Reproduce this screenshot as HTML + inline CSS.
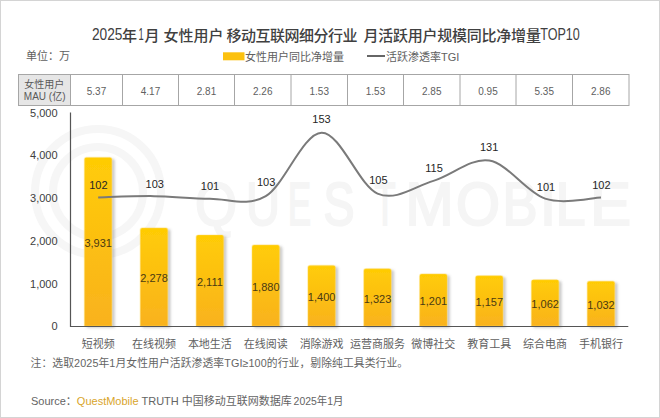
<!DOCTYPE html>
<html><head><meta charset="utf-8"><style>
html,body{margin:0;padding:0;background:#fff;}
body{width:660px;height:418px;overflow:hidden;position:relative;}
.frame{position:absolute;left:0;top:0;width:658px;height:416px;border:1px solid #d4d4d4;}
svg{position:absolute;left:0;top:0;}
text{font-family:"Liberation Sans","Noto Sans CJK SC",sans-serif;}
.ax{font-size:11px;fill:#404040;}
.bl{font-size:11px;fill:#4a3a12;}
.tl{font-size:11px;fill:#262626;}
.cat{font-size:11px;fill:#606060;}
.tb{font-size:11px;fill:#606060;}
.th{font-size:10px;fill:#595959;}
.lg{font-size:11px;fill:#606060;}
.title{font-size:15px;fill:#404040;font-weight:500;}
.note{font-size:11px;fill:#646464;}
</style></head><body>
<div class="frame"></div>
<svg width="660" height="418" viewBox="0 0 660 418">
<defs>
<linearGradient id="bg" x1="0" y1="0" x2="0" y2="1"><stop offset="0" stop-color="#ffcc05"/><stop offset="1" stop-color="#f9b21e"/></linearGradient>
<filter id="sh" x="-30%" y="-10%" width="160%" height="120%"><feDropShadow dx="2.6" dy="1.5" stdDeviation="1.1" flood-color="#666" flood-opacity="0.35"/></filter>
</defs>
<g fill="none" stroke="#f6f6f6" stroke-width="8"><circle cx="98" cy="192" r="63"/><circle cx="98" cy="192" r="45"/></g>
<text x="195.0" y="224.5" font-family="Liberation Sans, sans-serif" font-size="62" fill="#f5f5f5" stroke="#f5f5f5" stroke-width="2.2" textLength="42.0" lengthAdjust="spacingAndGlyphs">Q</text>
<text x="246.0" y="224.5" font-family="Liberation Sans, sans-serif" font-size="62" fill="#f5f5f5" stroke="#f5f5f5" stroke-width="2.2" textLength="34.0" lengthAdjust="spacingAndGlyphs">U</text>
<text x="288.0" y="224.5" font-family="Liberation Sans, sans-serif" font-size="62" fill="#f5f5f5" stroke="#f5f5f5" stroke-width="2.2" textLength="23.0" lengthAdjust="spacingAndGlyphs">E</text>
<text x="323.5" y="224.5" font-family="Liberation Sans, sans-serif" font-size="62" fill="#f5f5f5" stroke="#f5f5f5" stroke-width="2.2" textLength="31.0" lengthAdjust="spacingAndGlyphs">S</text>
<text x="374.5" y="224.5" font-family="Liberation Sans, sans-serif" font-size="62" fill="#f5f5f5" stroke="#f5f5f5" stroke-width="2.2" textLength="21.0" lengthAdjust="spacingAndGlyphs">T</text>
<text x="405.5" y="224.5" font-family="Liberation Sans, sans-serif" font-size="62" fill="#f5f5f5" stroke="#f5f5f5" stroke-width="2.2" textLength="48.0" lengthAdjust="spacingAndGlyphs">M</text>
<text x="456.0" y="224.5" font-family="Liberation Sans, sans-serif" font-size="62" fill="#f5f5f5" stroke="#f5f5f5" stroke-width="2.2" textLength="44.0" lengthAdjust="spacingAndGlyphs">O</text>
<text x="502.5" y="224.5" font-family="Liberation Sans, sans-serif" font-size="62" fill="#f5f5f5" stroke="#f5f5f5" stroke-width="2.2" textLength="35.0" lengthAdjust="spacingAndGlyphs">B</text>
<text x="540.0" y="224.5" font-family="Liberation Sans, sans-serif" font-size="62" fill="#f5f5f5" stroke="#f5f5f5" stroke-width="2.2" textLength="16.0" lengthAdjust="spacingAndGlyphs">I</text>
<text x="555.5" y="224.5" font-family="Liberation Sans, sans-serif" font-size="62" fill="#f5f5f5" stroke="#f5f5f5" stroke-width="2.2" textLength="30.0" lengthAdjust="spacingAndGlyphs">L</text>
<text x="590.0" y="224.5" font-family="Liberation Sans, sans-serif" font-size="62" fill="#f5f5f5" stroke="#f5f5f5" stroke-width="2.2" textLength="41.0" lengthAdjust="spacingAndGlyphs">E</text>
<path d="M84.45,326.00 V159.42 Q84.45,157.42 86.45,157.42 H109.85 Q111.85,157.42 111.85,159.42 V326.00 Z" fill="url(#bg)" stroke="#ffd84a" stroke-opacity="0.35" stroke-width="1.4" filter="url(#sh)"/>
<path d="M140.32,326.00 V229.97 Q140.32,227.97 142.32,227.97 H165.72 Q167.72,227.97 167.72,229.97 V326.00 Z" fill="url(#bg)" stroke="#ffd84a" stroke-opacity="0.35" stroke-width="1.4" filter="url(#sh)"/>
<path d="M196.19,326.00 V237.10 Q196.19,235.10 198.19,235.10 H221.59 Q223.59,235.10 223.59,237.10 V326.00 Z" fill="url(#bg)" stroke="#ffd84a" stroke-opacity="0.35" stroke-width="1.4" filter="url(#sh)"/>
<path d="M252.06,326.00 V246.96 Q252.06,244.96 254.06,244.96 H277.46 Q279.46,244.96 279.46,246.96 V326.00 Z" fill="url(#bg)" stroke="#ffd84a" stroke-opacity="0.35" stroke-width="1.4" filter="url(#sh)"/>
<path d="M307.93,326.00 V267.45 Q307.93,265.45 309.93,265.45 H333.33 Q335.33,265.45 335.33,267.45 V326.00 Z" fill="url(#bg)" stroke="#ffd84a" stroke-opacity="0.35" stroke-width="1.4" filter="url(#sh)"/>
<path d="M363.80,326.00 V270.73 Q363.80,268.73 365.80,268.73 H389.20 Q391.20,268.73 391.20,270.73 V326.00 Z" fill="url(#bg)" stroke="#ffd84a" stroke-opacity="0.35" stroke-width="1.4" filter="url(#sh)"/>
<path d="M419.67,326.00 V275.94 Q419.67,273.94 421.67,273.94 H445.07 Q447.07,273.94 447.07,275.94 V326.00 Z" fill="url(#bg)" stroke="#ffd84a" stroke-opacity="0.35" stroke-width="1.4" filter="url(#sh)"/>
<path d="M475.54,326.00 V277.82 Q475.54,275.82 477.54,275.82 H500.94 Q502.94,275.82 502.94,277.82 V326.00 Z" fill="url(#bg)" stroke="#ffd84a" stroke-opacity="0.35" stroke-width="1.4" filter="url(#sh)"/>
<path d="M531.41,326.00 V281.87 Q531.41,279.87 533.41,279.87 H556.81 Q558.81,279.87 558.81,281.87 V326.00 Z" fill="url(#bg)" stroke="#ffd84a" stroke-opacity="0.35" stroke-width="1.4" filter="url(#sh)"/>
<path d="M587.28,326.00 V283.15 Q587.28,281.15 589.28,281.15 H612.68 Q614.68,281.15 614.68,283.15 V326.00 Z" fill="url(#bg)" stroke="#ffd84a" stroke-opacity="0.35" stroke-width="1.4" filter="url(#sh)"/>
<path d="M70.5,112.5 V326.5 H628.3" fill="none" stroke="#555" stroke-width="1.2"/>
<path d="M98.15,197.40 C107.46,197.19 135.40,195.92 154.02,196.13 C172.64,196.35 191.27,198.67 209.89,198.67 C228.51,198.67 247.14,207.13 265.76,196.13 C284.38,185.14 303.01,133.13 321.63,132.70 C340.25,132.28 358.88,185.56 377.50,193.60 C396.12,201.63 414.75,186.41 433.37,180.91 C451.99,175.41 470.62,157.65 489.24,160.61 C507.86,163.57 526.49,192.54 545.11,198.67 C563.73,204.80 591.67,197.61 600.98,197.40" fill="none" stroke="#7a7a7a" stroke-width="2"/>
<text x="57.6" y="330.20" text-anchor="end" class="ax">0</text>
<text x="57.6" y="287.52" text-anchor="end" class="ax">1,000</text>
<text x="57.6" y="244.84" text-anchor="end" class="ax">2,000</text>
<text x="57.6" y="202.16" text-anchor="end" class="ax">3,000</text>
<text x="57.6" y="159.48" text-anchor="end" class="ax">4,000</text>
<text x="57.6" y="116.80" text-anchor="end" class="ax">5,000</text>
<text x="98.15" y="247.11" text-anchor="middle" class="bl">3,931</text>
<text x="154.02" y="282.39" text-anchor="middle" class="bl">2,278</text>
<text x="209.89" y="285.95" text-anchor="middle" class="bl">2,111</text>
<text x="265.76" y="290.88" text-anchor="middle" class="bl">1,880</text>
<text x="321.63" y="301.12" text-anchor="middle" class="bl">1,400</text>
<text x="377.50" y="302.77" text-anchor="middle" class="bl">1,323</text>
<text x="433.37" y="305.37" text-anchor="middle" class="bl">1,201</text>
<text x="489.24" y="306.31" text-anchor="middle" class="bl">1,157</text>
<text x="545.11" y="308.34" text-anchor="middle" class="bl">1,062</text>
<text x="600.98" y="308.98" text-anchor="middle" class="bl">1,032</text>
<text x="98.35" y="188.60" text-anchor="middle" class="tl">102</text>
<text x="154.70" y="187.80" text-anchor="middle" class="tl">103</text>
<text x="210.00" y="190.40" text-anchor="middle" class="tl">101</text>
<text x="266.10" y="186.40" text-anchor="middle" class="tl">103</text>
<text x="321.45" y="122.70" text-anchor="middle" class="tl">153</text>
<text x="378.35" y="184.00" text-anchor="middle" class="tl">105</text>
<text x="434.00" y="171.70" text-anchor="middle" class="tl">115</text>
<text x="489.10" y="151.30" text-anchor="middle" class="tl">131</text>
<text x="546.00" y="190.70" text-anchor="middle" class="tl">101</text>
<text x="601.35" y="188.90" text-anchor="middle" class="tl">102</text>
<text x="98.15" y="348" text-anchor="middle" class="cat">短视频</text>
<text x="154.02" y="348" text-anchor="middle" class="cat">在线视频</text>
<text x="209.89" y="348" text-anchor="middle" class="cat">本地生活</text>
<text x="265.76" y="348" text-anchor="middle" class="cat">在线阅读</text>
<text x="321.63" y="348" text-anchor="middle" class="cat">消除游戏</text>
<text x="377.50" y="348" text-anchor="middle" class="cat">运营商服务</text>
<text x="433.37" y="348" text-anchor="middle" class="cat">微博社交</text>
<text x="489.24" y="348" text-anchor="middle" class="cat">教育工具</text>
<text x="545.11" y="348" text-anchor="middle" class="cat">综合电商</text>
<text x="600.98" y="348" text-anchor="middle" class="cat">手机银行</text>
<rect x="18.5" y="74.5" width="52" height="31" fill="#e6e6e6"/>
<rect x="18.5" y="74.5" width="610.5" height="31" fill="none" stroke="#a6a6a6" stroke-width="1"/>
<line x1="70.5" y1="74.5" x2="70.5" y2="105.5" stroke="#a6a6a6" stroke-width="1"/>
<line x1="122.5" y1="74.5" x2="122.5" y2="105.5" stroke="#a6a6a6" stroke-width="1"/>
<line x1="178.5" y1="74.5" x2="178.5" y2="105.5" stroke="#a6a6a6" stroke-width="1"/>
<line x1="234.5" y1="74.5" x2="234.5" y2="105.5" stroke="#a6a6a6" stroke-width="1"/>
<line x1="291.0" y1="74.5" x2="291.0" y2="105.5" stroke="#a6a6a6" stroke-width="1"/>
<line x1="347.5" y1="74.5" x2="347.5" y2="105.5" stroke="#a6a6a6" stroke-width="1"/>
<line x1="403.5" y1="74.5" x2="403.5" y2="105.5" stroke="#a6a6a6" stroke-width="1"/>
<line x1="460.0" y1="74.5" x2="460.0" y2="105.5" stroke="#a6a6a6" stroke-width="1"/>
<line x1="516.0" y1="74.5" x2="516.0" y2="105.5" stroke="#a6a6a6" stroke-width="1"/>
<line x1="572.5" y1="74.5" x2="572.5" y2="105.5" stroke="#a6a6a6" stroke-width="1"/>
<text x="44.2" y="88.3" text-anchor="middle" class="th">女性用户</text>
<text x="44.7" y="99.8" text-anchor="middle" class="th">MAU (亿)</text>
<text x="96.50" y="94.5" text-anchor="middle" class="tb" textLength="19.4" lengthAdjust="spacingAndGlyphs">5.37</text>
<text x="150.50" y="94.5" text-anchor="middle" class="tb" textLength="19.4" lengthAdjust="spacingAndGlyphs">4.17</text>
<text x="206.50" y="94.5" text-anchor="middle" class="tb" textLength="19.4" lengthAdjust="spacingAndGlyphs">2.81</text>
<text x="262.75" y="94.5" text-anchor="middle" class="tb" textLength="19.4" lengthAdjust="spacingAndGlyphs">2.26</text>
<text x="319.25" y="94.5" text-anchor="middle" class="tb" textLength="19.4" lengthAdjust="spacingAndGlyphs">1.53</text>
<text x="375.50" y="94.5" text-anchor="middle" class="tb" textLength="19.4" lengthAdjust="spacingAndGlyphs">1.53</text>
<text x="431.75" y="94.5" text-anchor="middle" class="tb" textLength="19.4" lengthAdjust="spacingAndGlyphs">2.85</text>
<text x="488.00" y="94.5" text-anchor="middle" class="tb" textLength="19.4" lengthAdjust="spacingAndGlyphs">0.95</text>
<text x="544.25" y="94.5" text-anchor="middle" class="tb" textLength="19.4" lengthAdjust="spacingAndGlyphs">5.35</text>
<text x="600.75" y="94.5" text-anchor="middle" class="tb" textLength="19.4" lengthAdjust="spacingAndGlyphs">2.86</text>
<rect x="223" y="52.3" width="21.5" height="8" fill="#fcc10f"/>
<text x="245" y="60.5" class="lg">女性用户同比净增量</text>
<line x1="367" y1="56" x2="385" y2="56" stroke="#666" stroke-width="2"/>
<text x="386" y="60.5" class="lg">活跃渗透率TGI</text>
<text x="26" y="59.5" class="lg">单位：万</text>
<text x="92.00" y="39.75" class="title" style="font-size:16.3px" textLength="30.50" lengthAdjust="spacingAndGlyphs">2025</text>
<text x="122.00" y="40.5" class="title">年</text>
<text x="138.60" y="39.75" class="title" style="font-size:16.3px" textLength="5.20" lengthAdjust="spacingAndGlyphs">1</text>
<text x="144.60" y="40.5" class="title">月</text>
<text x="163.40" y="40.5" class="title">女性用户</text>
<text x="226.60" y="40.5" class="title" textLength="131.00" lengthAdjust="spacing">移动互联网细分行业</text>
<text x="363.40" y="40.5" class="title" textLength="177.50" lengthAdjust="spacing">月活跃用户规模同比净增量</text>
<text x="540.20" y="39.75" class="title" style="font-size:16.3px" textLength="39.60" lengthAdjust="spacingAndGlyphs">TOP10</text>
<text x="30.6" y="366.5" class="note" style="font-size:10.8px" textLength="377.5" lengthAdjust="spacing">注：选取2025年1月女性用户活跃渗透率TGI≥100的行业，剔除纯工具类行业。</text>
<text x="31" y="404.5" class="note">Source：<tspan fill="#d9a52b">QuestMobile</tspan> TRUTH 中国移动互联网数据库</text>
<text x="293.6" y="404.5" class="note" textLength="49.8" lengthAdjust="spacingAndGlyphs">2025年1月</text>
</svg>
</body></html>
